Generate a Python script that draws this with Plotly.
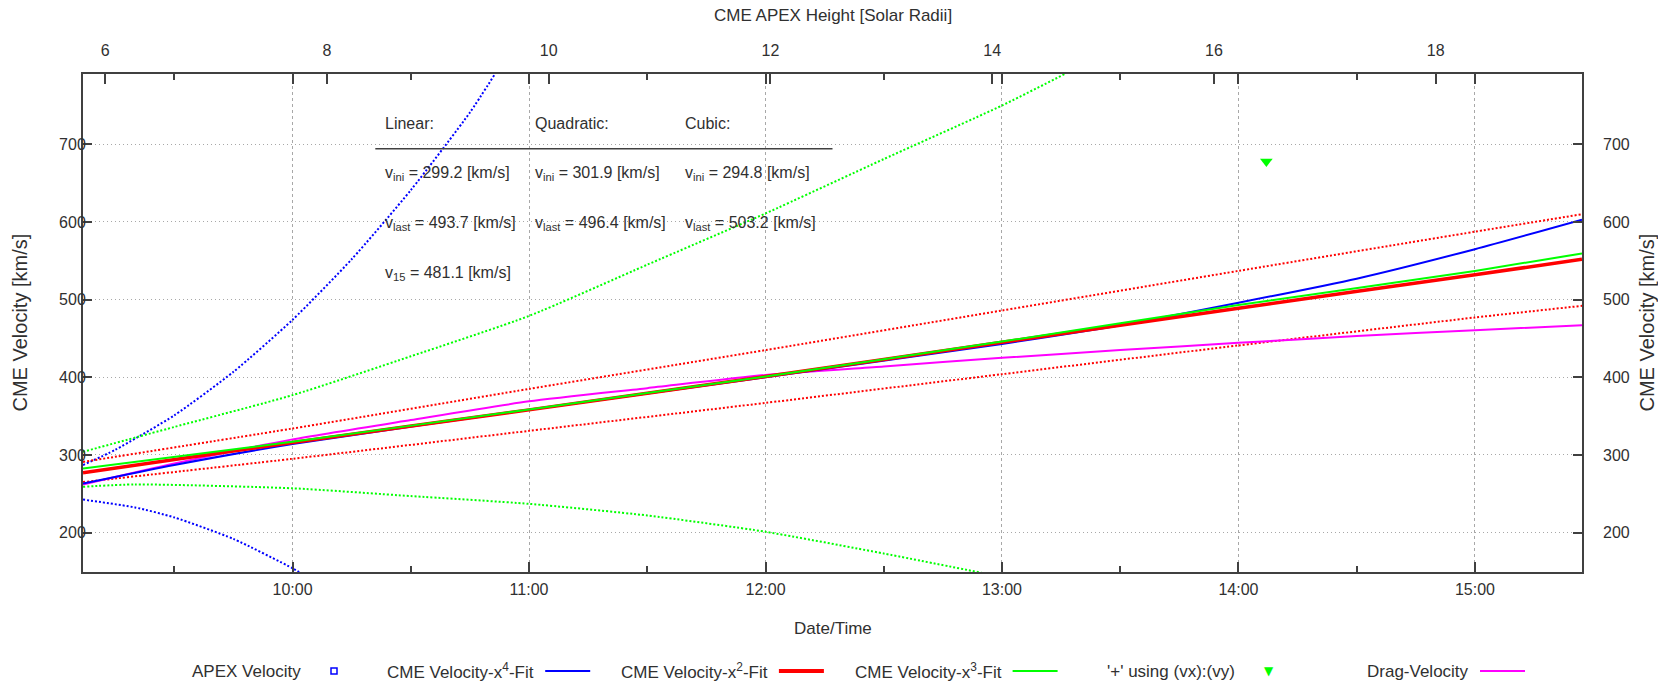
import plotly.graph_objects as go

# ---------------- data ----------------
DAY = "2000-01-01 "
time_range = ["09:06:50", "15:27:10"]
height_range = [5.80, 19.32]
vel_range = [149.2, 790.6]

height_ticks = [6, 8, 10, 12, 14, 16, 18]
vel_ticks = [200, 300, 400, 500, 600, 700]

# quadratic fit (red) with confidence band
fit2_t = ["09:06:50", "10:00", "11:00", "12:00", "13:00", "14:00", "15:00", "15:27:10"]
fit2_v = [277, 316, 358, 401, 445, 489, 532, 552]
fit2_up = [291, 334, 385, 435, 486, 537, 587.5, 610]
fit2_lo = [265, 295, 331, 367, 404, 441, 477, 492]

# cubic fit (green)
fit3_t = ["09:06:50", "10:00", "11:00", "12:00", "13:00", "14:00", "15:00", "15:27:10"]
fit3_v = [282.5, 317, 358.5, 401, 446, 493, 537, 559.5]
fit3_up_t = ["09:06:50", "09:30", "10:00", "10:30", "11:00", "11:30", "12:00", "12:30", "13:00", "13:16:05"]
fit3_up = [304, 336, 377, 427, 479, 545, 611, 681, 750, 791]
fit3_lo_t = ["09:06:50", "09:20", "10:00", "10:30", "11:00", "11:30", "12:00", "12:30", "12:55"]
fit3_lo = [259, 262, 257, 247, 237, 222, 201, 173, 148]

# 4th order fit (blue)
fit4_t = ["09:06:50", "09:30", "10:00", "11:00", "12:00", "13:00", "13:30", "14:00", "14:30", "15:00", "15:27:10"]
fit4_v = [263, 287, 314, 358, 400, 443, 467, 496, 527, 565, 603]
fit4_up_t = ["09:06:50", "09:15", "09:30", "09:45", "10:00", "10:15", "10:30", "10:45", "10:51:25"]
fit4_up = [287, 306.5, 351, 407, 474, 552, 641, 741, 791]
fit4_lo_t = ["09:06:50", "09:20", "09:30", "09:45", "10:00", "10:02:30"]
fit4_lo = [242.5, 232.4, 219.5, 191.8, 154, 146.6]

# drag-based velocity (magenta)
drag_t = ["09:06:50", "09:30", "10:00", "10:30", "11:00", "11:30", "12:00", "12:30",
          "13:00", "13:30", "14:00", "14:30", "15:00", "15:27:10"]
drag_v = [262, 289, 320, 345, 369, 386, 403, 414, 425, 435, 444.4, 453, 460.7, 467]

# '+' using (vx):(vy)
vx_t = ["14:07:05"]
vy_v = [678]

# APEX velocity points (none inside the visible window)
apex_h = []
apex_v = []

# fit summary text
fit_names = ["Linear:", "Quadratic:", "Cubic:"]
v_ini = [299.2, 301.9, 294.8]
v_last = [493.7, 496.4, 503.2]
v_15 = 481.1

legend_labels = ["APEX Velocity", "CME Velocity-x<sup>4</sup>-Fit", "CME Velocity-x<sup>2</sup>-Fit",
                 "CME Velocity-x<sup>3</sup>-Fit", "'+' using (vx):(vy)", "Drag-Velocity"]

# ---------------- styling ----------------
FONT = "Liberation Sans, Arial, sans-serif"
TXT = "#303030"
AX = "#404040"
GRID = "#a8a8a8"
BLUE, RED, GREEN, MAG = "#0000ff", "#ff0000", "#00ff00", "#ff00ff"
DOT = "2px,2px"


def T(lst):
    return [DAY + s for s in lst]


fig = go.Figure()


def line(t, v, color, width, dash="solid"):
    fig.add_trace(go.Scatter(x=T(t), y=v, mode="lines",
                             line=dict(color=color, width=width, dash=dash, shape="spline", smoothing=0.6),
                             showlegend=False, hoverinfo="skip"))


# confidence bands (dotted)
line(fit4_up_t, fit4_up, BLUE, 2, DOT)
line(fit4_lo_t, fit4_lo, BLUE, 2, DOT)
line(fit3_up_t, fit3_up, GREEN, 2, DOT)
line(fit3_lo_t, fit3_lo, GREEN, 2, DOT)
line(fit2_t, fit2_up, RED, 2, DOT)
line(fit2_t, fit2_lo, RED, 2, DOT)
# fits
line(drag_t, drag_v, MAG, 2)
line(fit4_t, fit4_v, BLUE, 2)
line(fit2_t, fit2_v, RED, 3.5)
line(fit3_t, fit3_v, GREEN, 2)

fig.add_trace(go.Scatter(x=T(vx_t), y=vy_v, mode="markers",
                         marker=dict(symbol="triangle-down", size=11, color=GREEN),
                         showlegend=False, hoverinfo="skip"))
fig.add_trace(go.Scatter(x=apex_h, y=apex_v, xaxis="x2", yaxis="y2", mode="markers",
                         marker=dict(symbol="square-open", size=7, color=BLUE),
                         showlegend=False, hoverinfo="skip"))

tickfont = dict(family=FONT, size=16, color=TXT)

fig.update_layout(
    width=1658, height=686,
    margin=dict(l=83, r=76, t=74, b=114),
    paper_bgcolor="white", plot_bgcolor="white",
    showlegend=False,
    xaxis=dict(type="date", range=T(time_range), tickformat="%H:%M", dtick=3600000,
               tick0=DAY + "00:00", ticks="inside", ticklen=10, tickwidth=1.5, tickcolor=AX,
               showline=True, linewidth=2, linecolor=AX, mirror="ticks",
               showgrid=True, gridcolor=GRID, griddash="3px,3px", gridwidth=1,
               minor=dict(dtick=1800000, ticks="inside", ticklen=6, tickwidth=1.5, tickcolor=AX, showgrid=False),
               tickfont=tickfont, ticklabelstandoff=2, zeroline=False),
    xaxis2=dict(overlaying="x", side="top", anchor="y", range=height_range, tickvals=height_ticks,
                ticks="inside", ticklen=10, tickwidth=1.5, tickcolor=AX, showgrid=False, showline=False,
                zeroline=False, tickfont=tickfont, ticklabelstandoff=14),
    yaxis=dict(range=vel_range, tickvals=vel_ticks, ticks="inside", ticklen=9, tickwidth=1.5, tickcolor=AX,
               showline=True, linewidth=2, linecolor=AX, mirror=True,
               showgrid=True, gridcolor=GRID, griddash="1px,3px", gridwidth=1,
               tickfont=tickfont, ticklabelstandoff=-8, zeroline=False),
    yaxis2=dict(overlaying="y", side="right", anchor="x", range=vel_range, tickvals=vel_ticks,
                ticks="inside", ticklen=9, tickwidth=1.5, tickcolor=AX, showgrid=False, showline=False,
                zeroline=False, tickfont=tickfont, ticklabelstandoff=20),
)

# ---------------- geometry helpers (pixel -> paper) ----------------
PL, PR, PT, PB = 83, 1582, 74, 572


def px(xp):
    return (xp - PL) / (PR - PL)


def py(yp):
    return (PB - yp) / (PB - PT)


ann = []
# axis titles
ann.append(dict(text="CME APEX Height [Solar Radii]", x=0.5, y=py(15), xref="paper", yref="paper",
                showarrow=False, font=dict(family=FONT, size=17, color=TXT), xanchor="center", yanchor="middle"))
ann.append(dict(text="Date/Time", x=0.5, y=py(628), xref="paper", yref="paper",
                showarrow=False, font=dict(family=FONT, size=17, color=TXT), xanchor="center", yanchor="middle"))
ann.append(dict(text="CME Velocity [km/s]", x=px(19.5), y=0.5, xref="paper", yref="paper", textangle=-90,
                showarrow=False, font=dict(family=FONT, size=20, color=TXT), xanchor="center", yanchor="middle"))
ann.append(dict(text="CME Velocity [km/s]", x=px(1646.5), y=0.5, xref="paper", yref="paper", textangle=-90,
                showarrow=False, font=dict(family=FONT, size=20, color=TXT), xanchor="center", yanchor="middle"))

# fit summary block
lab_font = dict(family=FONT, size=16, color=TXT)
for i, name in enumerate(fit_names):
    xg = 0.2 + 0.1 * i
    ann.append(dict(text=name, x=xg, y=0.9, xref="paper", yref="paper", showarrow=False,
                    xanchor="left", yanchor="middle", font=lab_font))
    ann.append(dict(text="v<sub>ini</sub> = %.1f [km/s]" % v_ini[i], x=xg, y=0.8, xref="paper", yref="paper",
                    showarrow=False, xanchor="left", yanchor="middle", font=lab_font))
    ann.append(dict(text="v<sub>last</sub> = %.1f [km/s]" % v_last[i], x=xg, y=0.7, xref="paper", yref="paper",
                    showarrow=False, xanchor="left", yanchor="middle", font=lab_font))
ann.append(dict(text="v<sub>15</sub> = %.1f [km/s]" % v_15, x=0.2, y=0.6, xref="paper", yref="paper",
                showarrow=False, xanchor="left", yanchor="middle", font=lab_font))

shapes = [dict(type="line", xref="paper", yref="paper", x0=0.195, x1=0.5, y0=0.85, y1=0.85,
               line=dict(color=AX, width=1.5))]

# custom gnuplot-style key (text right-justified, sample after it)
LEG_Y = py(671)
COL_W = 233.7
START0 = 311.5
SAMPLE = 45
samples = [("square", BLUE, 0), ("line", BLUE, 2), ("line", RED, 4), ("line", GREEN, 2),
           ("tri", GREEN, 0), ("line", MAG, 2)]
for i, (label, (kind, col, w)) in enumerate(zip(legend_labels, samples)):
    s = START0 + i * COL_W
    ann.append(dict(text=label, x=px(s - 9), y=LEG_Y, xref="paper", yref="paper", showarrow=False,
                    xanchor="right", yanchor="middle", font=dict(family=FONT, size=17, color=TXT)))
    if kind == "line":
        shapes.append(dict(type="line", xref="paper", yref="paper", x0=px(s), x1=px(s + SAMPLE),
                           y0=LEG_Y, y1=LEG_Y, line=dict(color=col, width=w)))
    elif kind == "square":
        shapes.append(dict(type="rect", xref="paper", yref="paper", xsizemode="pixel", ysizemode="pixel",
                           xanchor=px(s + SAMPLE / 2), yanchor=LEG_Y, x0=-3, x1=3, y0=-3, y1=3,
                           line=dict(color=col, width=1.5), fillcolor="rgba(0,0,0,0)"))
    else:
        ann.append(dict(text="▼", x=px(s + SAMPLE / 2), y=LEG_Y, xref="paper", yref="paper", showarrow=False,
                        xanchor="center", yanchor="middle", font=dict(family="DejaVu Sans", size=12, color=col)))

fig.update_layout(annotations=ann, shapes=shapes)

fig.write_html("out.html", config={"displayModeBar": False},
               post_script="document.body.style.margin='0px';document.body.style.padding='0px';"
                           "document.body.style.overflow='hidden';")
